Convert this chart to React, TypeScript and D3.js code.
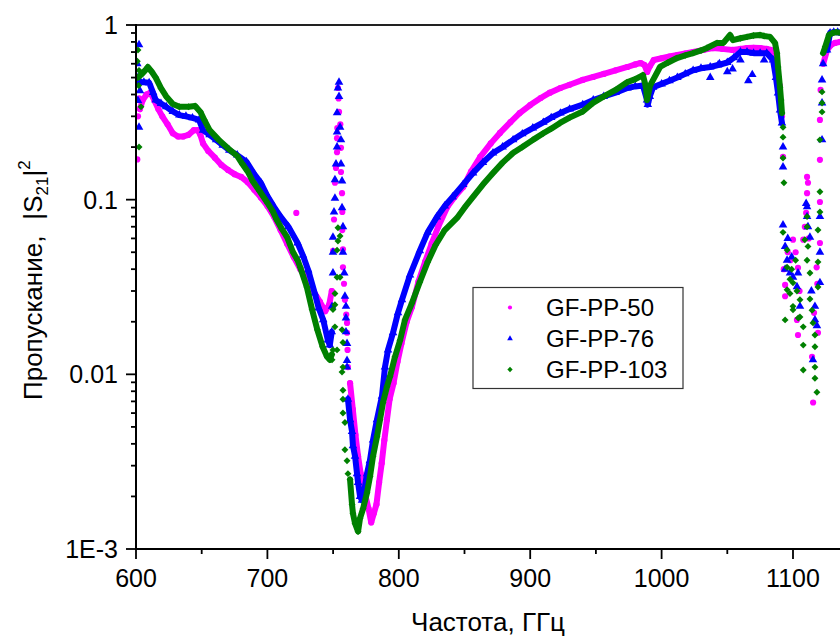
import React, { useRef, useEffect } from "react";
import * as d3 from "d3";

type Pt = [number, number];

// axis ticks
const xTicks = [600, 700, 800, 900, 1000, 1100];
const xMinorTicks = [650, 750, 850, 950, 1050];
const yTicks = [0.001, 0.01, 0.1, 1];
const yTickLabels = ["1E-3", "0.01", "0.1", "1"];

const seriesNames = ["GF-PP-50", "GF-PP-76", "GF-PP-103"];
const seriesColors = ["#ff00ff", "#0000ff", "#008000"];

// ---- GF-PP-50 (magenta) : [frequency GHz, |S21|^2]
const pp50Band1: Pt[] = [
	[603, 0.33], [605, 0.37], [608, 0.4], [611, 0.41], [614, 0.37], [617, 0.33], [620, 0.3],
	[624, 0.27], [628, 0.24], [632, 0.23], [636, 0.23], [640, 0.235], [644, 0.25], [647, 0.25],
	[649, 0.235], [651, 0.21], [655, 0.19], [660, 0.174], [665, 0.158], [670, 0.148], [675, 0.14],
	[680, 0.135], [685, 0.126], [690, 0.114], [695, 0.103], [700, 0.092], [705, 0.08], [710, 0.067],
	[715, 0.056], [720, 0.047], [725, 0.04], [730, 0.035], [735, 0.03], [740, 0.026], [744, 0.023],
	[747, 0.025], [749, 0.03],
];
const pp50Band2: Pt[] = [
	[762.9, 0.0089], [765, 0.0063], [767, 0.0045], [769, 0.0034], [771, 0.0027], [774, 0.0021],
	[777, 0.0017], [779, 0.00142], [781, 0.0016], [783, 0.0018], [785, 0.0024], [787, 0.0031],
	[789, 0.0042], [791, 0.0055], [793, 0.0072], [796, 0.0089], [799, 0.0118], [802, 0.015],
	[806, 0.02], [810, 0.0243], [815, 0.034], [820, 0.044], [825, 0.056], [830, 0.07], [837, 0.091],
	[843, 0.105], [849, 0.118], [855, 0.145], [862, 0.176], [870, 0.21], [877, 0.241], [885, 0.278],
	[892, 0.313], [900, 0.348], [908, 0.382], [915, 0.41], [923, 0.436], [930, 0.455], [940, 0.485],
	[948, 0.504], [956, 0.525], [965, 0.55], [974, 0.575], [980, 0.595], [984, 0.606], [987, 0.59],
	[989, 0.538], [991, 0.58], [994, 0.63], [1000, 0.645], [1006, 0.66], [1012, 0.673], [1018, 0.687],
	[1024, 0.7], [1032, 0.72], [1039, 0.738], [1046, 0.73], [1054, 0.72], [1060, 0.73], [1065, 0.738],
	[1070, 0.74], [1075, 0.738], [1080, 0.73], [1083, 0.72], [1085, 0.69], [1087, 0.62], [1088, 0.575],
];
const pp50Band3: Pt[] = [[1123, 0.6], [1126, 0.72], [1129, 0.77], [1132, 0.79], [1136, 0.8]];
const pp50Scatter: Pt[] = [
	[601, 0.17], [601.5, 0.3], [602.5, 0.38], [722, 0.084],
	[750, 0.051], [750.7, 0.077], [751.4, 0.125], [752.2, 0.152], [753, 0.187], [753, 0.225],
	[753.2, 0.257], [754.5, 0.318], [753.7, 0.436], [754.2, 0.38],
	[755.5, 0.27], [756, 0.198], [756, 0.144], [756.8, 0.109], [757, 0.085], [757, 0.067],
	[757.5, 0.052], [757.5, 0.041], [758.3, 0.033], [759, 0.0267], [760, 0.022], [760.6, 0.0197],
	[760.6, 0.0173], [761, 0.0138], [761.3, 0.011],
	[1090, 0.45], [1091.6, 0.3], [1092.4, 0.176], [1093, 0.04], [1094, 0.0325], [1094, 0.028],
	[1096, 0.05], [1098, 0.045], [1100, 0.059], [1102, 0.05], [1103.8, 0.0407], [1103, 0.0205],
	[1103.8, 0.0168], [1105, 0.03], [1107.8, 0.059], [1109, 0.07], [1110.7, 0.135], [1111.4, 0.125],
	[1110.7, 0.109], [1110, 0.084], [1112, 0.06], [1114.5, 0.0126], [1115.3, 0.0069], [1116, 0.0225],
	[1118, 0.041], [1118.5, 0.033], [1119, 0.0173], [1120.5, 0.0565], [1120.5, 0.097],
	[1120.5, 0.169], [1120.5, 0.286], [1121, 0.425],
];

// ---- GF-PP-76 (blue)
const pp76Band1: Pt[] = [
	[602, 0.47], [606, 0.47], [610, 0.467], [613, 0.41], [615, 0.372], [619, 0.355], [623, 0.34],
	[628, 0.32], [633, 0.305], [638, 0.3], [643, 0.294], [648, 0.286], [651, 0.25], [656, 0.235],
	[661, 0.22], [666, 0.205], [671, 0.192], [677, 0.18], [684, 0.165], [690, 0.14], [695, 0.125],
	[700, 0.105], [705, 0.091], [710, 0.08], [716, 0.07], [723, 0.0565], [727, 0.048], [731, 0.0396],
	[736, 0.0292], [739, 0.024], [742.5, 0.0205], [746, 0.0157], [747.5, 0.0147], [749, 0.0175],
];
const pp76Band2: Pt[] = [
	[761.3, 0.0072], [762.9, 0.0055], [764.4, 0.0047], [765.1, 0.0039], [766.7, 0.0034],
	[768.2, 0.0027], [769, 0.0024], [770.5, 0.002], [772, 0.0019], [773.5, 0.0021], [775.8, 0.0027],
	[778, 0.0032], [780.4, 0.0042], [783.4, 0.0055], [787.2, 0.0075], [789.5, 0.011], [791.8, 0.0138],
	[795.6, 0.0173], [799.4, 0.0225], [802.4, 0.0267], [808.5, 0.037], [816, 0.051], [822, 0.065],
	[829, 0.0796], [835, 0.092], [841, 0.1036], [849, 0.122], [856.5, 0.142], [864, 0.163],
	[871.7, 0.185], [879, 0.2], [887, 0.22], [894, 0.238], [902, 0.257], [910, 0.277], [916, 0.295],
	[923, 0.313], [930, 0.33], [940, 0.35], [948, 0.372], [956, 0.39], [965, 0.41], [974, 0.436],
	[980, 0.445], [985.8, 0.45], [988.9, 0.372], [989.5, 0.35], [991, 0.39], [993.5, 0.44],
	[1000, 0.46], [1006, 0.48], [1012, 0.5], [1018, 0.525], [1024, 0.55], [1030, 0.565],
	[1037, 0.575], [1043, 0.59], [1050, 0.61], [1055, 0.65], [1060, 0.7], [1065, 0.7], [1070, 0.69],
	[1075, 0.69], [1080, 0.69], [1084.8, 0.63], [1087, 0.5], [1088.6, 0.408], [1090.1, 0.326],
	[1091.6, 0.275],
];
const pp76Band3: Pt[] = [[1125.9, 0.72], [1128.2, 0.9], [1131, 0.91], [1134, 0.91], [1137, 0.9]];
const pp76Scatter: Pt[] = [
	[602.3, 0.77], [601.5, 0.5], [601.5, 0.37], [602.3, 0.26], [601, 0.6], [603, 0.42],
	[749.2, 0.0245], [749.9, 0.038], [749.9, 0.05], [749.9, 0.061], [750.7, 0.085], [751.4, 0.102],
	[751.4, 0.13], [752.2, 0.16], [753, 0.2], [753, 0.244], [753, 0.314], [753.7, 0.436],
	[754.5, 0.47], [754.5, 0.39],
	[755.3, 0.26], [756, 0.22], [756, 0.16], [756.8, 0.128], [756.8, 0.09], [757.5, 0.07],
	[757.5, 0.05], [758.5, 0.038], [759, 0.028], [759.8, 0.0245], [759.8, 0.021], [759.8, 0.0175],
	[760.6, 0.015], [760.6, 0.012], [760.6, 0.011],
	[1037, 0.5], [1050, 0.54], [1054, 0.56], [1066, 0.48], [1069, 0.52], [1078, 0.63], [1044, 0.6],
	[1060, 0.63],
	[1092.4, 0.2], [1092.4, 0.154], [1092.4, 0.0717], [1094, 0.054], [1095.5, 0.045],
	[1097.7, 0.038], [1100, 0.036], [1103, 0.0317], [1103.8, 0.038], [1105.3, 0.0245], [1096, 0.06],
	[1094, 0.04], [1110.7, 0.091], [1110.7, 0.08], [1111.4, 0.07], [1112.9, 0.061], [1110, 0.095],
	[1116.7, 0.0245], [1116.7, 0.0205], [1118.2, 0.019], [1115.2, 0.0121], [1120.5, 0.0335],
	[1120.5, 0.05], [1120.5, 0.08], [1122.1, 0.22], [1122.1, 0.358], [1122.1, 0.484],
	[1122.9, 0.6], [1114, 0.03], [1099, 0.047],
];

// ---- GF-PP-103 (green)
const pp103Band1: Pt[] = [
	[601.5, 0.5], [604, 0.52], [607, 0.55], [609, 0.575], [612, 0.54], [615, 0.5], [619, 0.435],
	[623, 0.39], [628, 0.353], [633, 0.34], [640, 0.34], [645, 0.344], [649, 0.318], [652, 0.286],
	[656, 0.25], [663, 0.22], [670, 0.197], [677, 0.178], [681, 0.16], [685, 0.145], [689, 0.127],
	[694, 0.112], [700, 0.096], [704, 0.086], [707, 0.077], [711, 0.068], [715, 0.061],
	[719.5, 0.05], [723, 0.045], [725, 0.041], [730, 0.0316], [734, 0.0235], [738, 0.018],
	[742, 0.0144], [745.4, 0.0126], [747.6, 0.0121], [749, 0.013],
];
const pp103Band2: Pt[] = [
	[762.9, 0.0025], [764.4, 0.0018], [765.1, 0.0016], [766.7, 0.0014], [769, 0.00126],
	[770.5, 0.0015], [772.8, 0.0017], [775.8, 0.0021], [778.1, 0.0026], [780.4, 0.0034],
	[783.4, 0.0044], [785.7, 0.0055], [788, 0.0069], [791, 0.0085], [793.3, 0.0097], [797.1, 0.0126],
	[800.9, 0.0156], [804.7, 0.0205], [810, 0.0256], [816, 0.0338], [822, 0.044], [828, 0.055],
	[835, 0.067], [844.3, 0.0786], [850, 0.09], [856.5, 0.1036], [864, 0.122], [871.7, 0.142],
	[879, 0.163], [886.9, 0.185], [894, 0.2], [902.1, 0.22], [910, 0.24], [916, 0.255],
	[922.7, 0.275], [930, 0.295], [940, 0.32], [947.8, 0.358], [956, 0.39], [965, 0.425],
	[973.7, 0.47], [980, 0.49], [985.8, 0.517], [988.1, 0.44], [988.9, 0.372], [991.2, 0.45],
	[998.8, 0.575], [1005, 0.61], [1011.7, 0.647], [1018, 0.67], [1023.9, 0.69], [1030, 0.715],
	[1034.5, 0.738], [1042.2, 0.79], [1047, 0.79], [1052.1, 0.877], [1054.3, 0.82], [1060, 0.84],
	[1065, 0.855], [1070, 0.87], [1074.9, 0.877], [1078, 0.865], [1082.5, 0.855], [1086.3, 0.79],
	[1087.8, 0.69], [1088.6, 0.575], [1090.1, 0.44], [1090.9, 0.372], [1091.6, 0.313],
];
const pp103Band3: Pt[] = [[1122.9, 0.69], [1124.5, 0.75], [1127.4, 0.877], [1130, 0.9], [1133, 0.91], [1137, 0.9]];
const pp103Scatter: Pt[] = [
	[601.5, 0.72], [602.3, 0.55], [603.8, 0.34], [602.3, 0.2], [601, 0.62], [602, 0.45],
	[749.9, 0.0138], [749.9, 0.0235], [751.4, 0.0187], [751.4, 0.025], [751.4, 0.029], [753, 0.036],
	[753, 0.0514], [753.7, 0.058], [753.7, 0.069], [755.3, 0.062], [755.3, 0.036], [753, 0.0138],
	[749.2, 0.0121], [756.8, 0.018], [757.5, 0.0152], [757.5, 0.011], [756.8, 0.0103],
	[757.5, 0.0081], [757.5, 0.0072], [757.5, 0.006], [759, 0.0053], [759, 0.0037],
	[760.6, 0.0032], [761.3, 0.0027],
	[1092.4, 0.26], [1092.4, 0.228], [1092.4, 0.173], [1093.1, 0.125], [1092.4, 0.065],
	[1095.5, 0.0515], [1095.5, 0.041], [1097.7, 0.035], [1095.5, 0.0305], [1094, 0.0205],
	[1100, 0.0334], [1103, 0.03], [1100, 0.0245], [1105.3, 0.0267], [1105.3, 0.0213],
	[1107.8, 0.0187], [1107.8, 0.0147], [1107.8, 0.0106], [1110.7, 0.07], [1110.7, 0.08],
	[1110.7, 0.045], [1112.9, 0.038], [1112.9, 0.027], [1114.5, 0.0233], [1115.2, 0.0197],
	[1116.7, 0.0144], [1116.7, 0.011], [1116.7, 0.0095], [1118.2, 0.0079], [1119, 0.067],
	[1120.5, 0.111], [1120.5, 0.085], [1119, 0.044], [1119, 0.0316], [1116.7, 0.0168],
	[1109, 0.059], [1111.4, 0.054], [1097.7, 0.029], [1100, 0.0234], [1104, 0.021], [1099, 0.04],
	[1102, 0.045], [1122.1, 0.414], [1122.1, 0.358], [1122.1, 0.318], [1120.5, 0.22],
];

const seriesBands: Pt[][][] = [
	[pp50Band1, pp50Band2, pp50Band3],
	[pp76Band1, pp76Band2, pp76Band3],
	[pp103Band1, pp103Band2, pp103Band3],
];
const seriesScatter: Pt[][] = [pp50Scatter, pp76Scatter, pp103Scatter];

const FONT = "'Liberation Sans', Arial, sans-serif";

const App = () => {
	const ref = useRef<SVGSVGElement>(null);
	const width = 840;
	const height = 639;

	useEffect(() => {
		const svg = d3.select(ref.current);
		svg.selectAll("*").remove();

		const x = d3.scaleLinear().domain([600, 1100]).range([136, 793]);
		const y = d3.scaleLog().domain([0.001, 1]).range([549, 25]);
		const plotRight = width;

		// marker shapes
		const symbolTypes = [d3.symbolCircle, d3.symbolTriangle, d3.symbolSquare];
		const symbolSizes = [30, 32, 24];
		const rot = [0, 0, 45];

		const clip = svg.append("defs").append("clipPath").attr("id", "plotclip");
		clip.append("rect").attr("x", 136).attr("y", 20).attr("width", plotRight - 136).attr("height", 534);

		const plot = svg.append("g").attr("clip-path", "url(#plotclip)");

		const line = d3
			.line<Pt>()
			.x((d) => x(d[0]))
			.y((d) => y(d[1]));

		seriesNames.forEach((_, i) => {
			const g = plot.append("g");
			// dense bands of overlapping points
			seriesBands[i].forEach((band) => {
				g.append("path")
					.attr("d", line(band))
					.attr("fill", "none")
					.attr("stroke", seriesColors[i])
					.attr("stroke-width", 6)
					.attr("stroke-linejoin", "round")
					.attr("stroke-linecap", "round");
			});
			const pts = seriesBands[i].flat().concat(seriesScatter[i]);
			g.selectAll(".pt")
				.data(pts)
				.enter()
				.append("path")
				.attr("d", d3.symbol().type(symbolTypes[i]).size(symbolSizes[i])())
				.attr("transform", (d) => `translate(${x(d[0])},${y(d[1])}) rotate(${rot[i]})`)
				.attr("fill", seriesColors[i]);
		});

		// axes lines
		const axisColor = "#000";
		svg.append("line").attr("x1", 136).attr("x2", plotRight).attr("y1", 25).attr("y2", 25)
			.attr("stroke", "#222").attr("stroke-width", 2);
		svg.append("line").attr("x1", 136).attr("x2", plotRight).attr("y1", 549).attr("y2", 549)
			.attr("stroke", axisColor).attr("stroke-width", 2);
		svg.append("line").attr("x1", 136).attr("x2", 136).attr("y1", 24).attr("y2", 550)
			.attr("stroke", axisColor).attr("stroke-width", 2);

		// x ticks
		const xAxis = svg.append("g");
		xAxis.selectAll(".maj").data(xTicks).enter().append("line")
			.attr("x1", (d) => x(d)).attr("x2", (d) => x(d)).attr("y1", 549).attr("y2", 559)
			.attr("stroke", axisColor).attr("stroke-width", 1.8);
		xAxis.selectAll(".min").data(xMinorTicks).enter().append("line")
			.attr("x1", (d) => x(d)).attr("x2", (d) => x(d)).attr("y1", 549).attr("y2", 554)
			.attr("stroke", axisColor).attr("stroke-width", 1.8);
		xAxis.selectAll(".lbl").data(xTicks).enter().append("text")
			.attr("x", (d) => x(d)).attr("y", 587)
			.attr("text-anchor", "middle")
			.attr("font-family", FONT).attr("font-size", 25)
			.text((d) => d);

		// y ticks
		const yMinor: number[] = [];
		[0.001, 0.01, 0.1].forEach((dec) => {
			for (let k = 2; k <= 9; k++) yMinor.push(dec * k);
		});
		const yAxis = svg.append("g");
		yAxis.selectAll(".maj").data(yTicks).enter().append("line")
			.attr("x1", 126).attr("x2", 136).attr("y1", (d) => y(d)).attr("y2", (d) => y(d))
			.attr("stroke", axisColor).attr("stroke-width", 1.8);
		yAxis.selectAll(".min").data(yMinor).enter().append("line")
			.attr("x1", 131).attr("x2", 136).attr("y1", (d) => y(d)).attr("y2", (d) => y(d))
			.attr("stroke", axisColor).attr("stroke-width", 1.8);
		yAxis.selectAll(".lbl").data(yTicks).enter().append("text")
			.attr("x", 118).attr("y", (d) => y(d) + 9)
			.attr("text-anchor", "end")
			.attr("font-family", FONT).attr("font-size", 25)
			.text((d, i) => yTickLabels[i]);

		// axis titles
		svg.append("text")
			.attr("x", 488).attr("y", 631)
			.attr("text-anchor", "middle")
			.attr("font-family", FONT).attr("font-size", 26)
			.text("Частота, ГГц");

		const yt = svg.append("text")
			.attr("transform", "translate(42,400) rotate(-90)")
			.attr("font-family", FONT).attr("font-size", 26);
		yt.append("tspan").text("Пропускание,");
		yt.append("tspan").attr("dx", 16).text("|S");
		yt.append("tspan").attr("font-size", 17).attr("dy", 6).text("21");
		yt.append("tspan").attr("dy", -6).text("|");
		yt.append("tspan").attr("font-size", 17).attr("dy", -12).text("2");

		// legend
		const lg = svg.append("g");
		lg.append("rect").attr("x", 473).attr("y", 287.5).attr("width", 210).attr("height", 101)
			.attr("fill", "#fff").attr("stroke", "#333").attr("stroke-width", 1.2);
		seriesNames.forEach((name, i) => {
			const cy = 307.5 + i * 31;
			lg.append("path")
				.attr("d", d3.symbol().type(symbolTypes[i]).size(14)())
				.attr("transform", `translate(510,${cy}) rotate(${rot[i]})`)
				.attr("fill", seriesColors[i]);
			lg.append("text")
				.attr("x", 546).attr("y", cy + 8.5)
				.attr("font-family", FONT).attr("font-size", 24)
				.text(name);
		});
	}, []);

	return (
		<svg
			ref={ref}
			width={width}
			height={height}
			style={{ position: "absolute", left: 0, top: 0, background: "#fff" }}
		/>
	);
};

export default App;
